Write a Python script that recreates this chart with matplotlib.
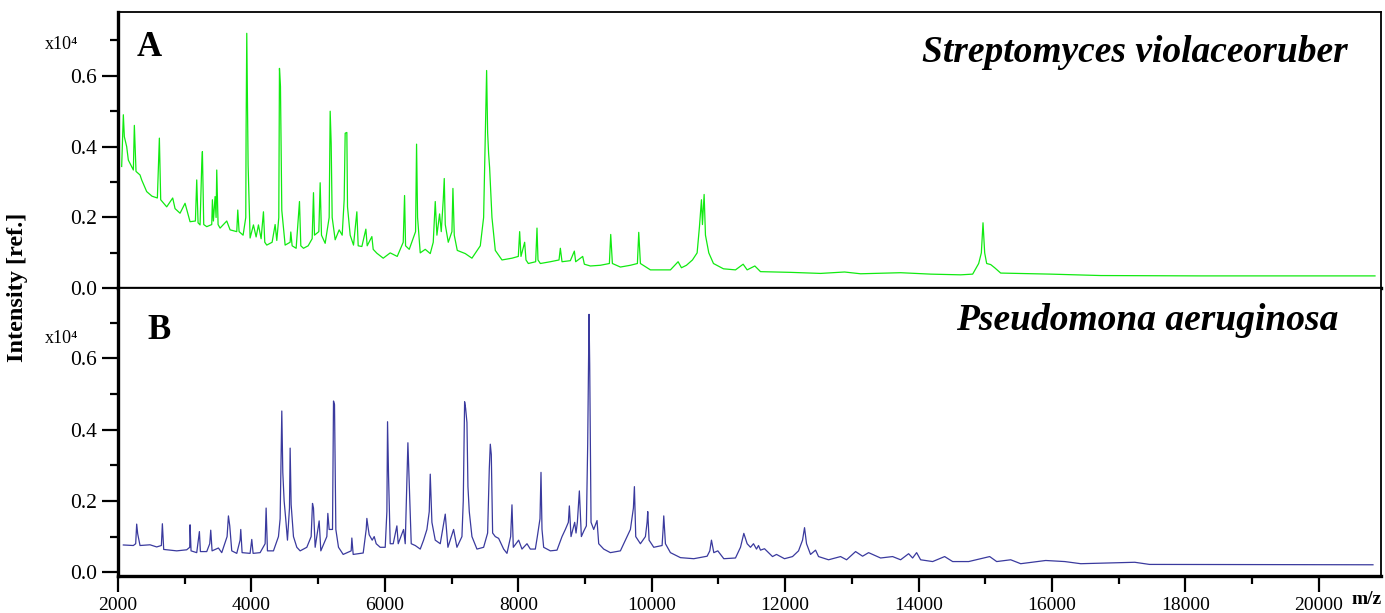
import matplotlib
matplotlib.use('Agg')
import matplotlib.pyplot as plt
from matplotlib.ticker import MultipleLocator

# spectrum A - Streptomyces violaceoruber (intensity in units of 1e4)
a_mz = [2055, 2080, 2095, 2130, 2155, 2230, 2245, 2270, 2330, 2355,
        2430, 2510, 2590, 2620, 2640, 2730, 2820, 2855, 2930, 3005,
        3080, 3160, 3180, 3200, 3230, 3255, 3265, 3285, 3330, 3405,
        3415, 3430, 3455, 3470, 3480, 3500, 3530, 3630, 3680, 3780,
        3795, 3815, 3875, 3915, 3920, 3930, 3950, 3980, 4030, 4070,
        4105, 4145, 4180, 4200, 4230, 4310, 4355, 4380, 4410, 4420,
        4435, 4455, 4505, 4580, 4590, 4610, 4670, 4720, 4740, 4780,
        4850, 4910, 4930, 4945, 5010, 5030, 5050, 5105, 5165, 5180,
        5195, 5210, 5255, 5315, 5360, 5390, 5405, 5430, 5440, 5480,
        5530, 5580, 5600, 5655, 5715, 5735, 5805, 5825, 5880, 5975,
        6080, 6185, 6275, 6295, 6310, 6365, 6460, 6475, 6490, 6530,
        6605, 6680, 6725, 6755, 6780, 6820, 6845, 6875, 6890, 6905,
        6950, 7005, 7020, 7040, 7085, 7205, 7305, 7430, 7480, 7505,
        7525, 7540, 7555, 7570, 7590, 7605, 7655, 7755, 7905, 8000,
        8020, 8040, 8095, 8115, 8150, 8260, 8280, 8295, 8330, 8480,
        8610, 8630, 8655, 8780, 8840, 8860, 8965, 8990, 9080, 9230,
        9365, 9385, 9410, 9530, 9680, 9785, 9805, 9830, 9980, 10280,
        10395, 10445, 10520, 10610, 10680, 10715, 10745, 10760, 10785, 10805,
        10855, 10925, 11075, 11255, 11370, 11430, 11545, 11630, 12080, 12530,
        12890, 13130, 13730, 14180, 14630, 14810, 14900, 14940, 14965, 14990,
        15020, 15080, 15140, 15230, 15980, 16730, 18230, 19730, 20840]
a_int = [.344, .49, .428, .40, .362, .334, .46, .33, .32, .306,
         .273, .26, .255, .424, .25, .23, .255, .225, .212, .24,
         .188, .19, .306, .185, .179, .35, .386, .18, .174, .18,
         .25, .19, .259, .20, .334, .18, .17, .19, .165, .16,
         .221, .16, .15, .20, .447, .72, .348, .142, .179, .145,
         .179, .14, .216, .13, .122, .13, .18, .135, .20, .621,
         .57, .22, .122, .13, .159, .12, .113, .245, .12, .113,
         .12, .14, .27, .15, .16, .298, .15, .127, .20, .50,
         .41, .20, .137, .165, .15, .25, .438, .44, .23, .15,
         .122, .216, .12, .118, .167, .12, .146, .11, .099, .085,
         .10, .09, .13, .262, .12, .11, .16, .407, .20, .10,
         .11, .098, .13, .245, .15, .21, .16, .25, .31, .18,
         .13, .16, .282, .15, .107, .098, .085, .12, .20, .43,
         .615, .44, .38, .34, .26, .20, .107, .08, .085, .09,
         .16, .09, .13, .08, .07, .075, .17, .08, .07, .075,
         .08, .113, .075, .078, .105, .075, .09, .068, .063, .065,
         .07, .152, .07, .06, .065, .07, .158, .07, .052, .052,
         .075, .058, .065, .08, .10, .174, .25, .18, .265, .15,
         .10, .07, .055, .052, .068, .052, .063, .047, .045, .042,
         .046, .041, .044, .04, .038, .04, .07, .10, .185, .10,
         .07, .067, .058, .043, .04, .036, .035, .035, .035]

# spectrum B - Pseudomona aeruginosa
b_mz = [2080, 2230, 2265, 2280, 2295, 2330, 2480, 2580, 2650, 2665,
        2685, 2880, 3030, 3075, 3080, 3095, 3180, 3220, 3235, 3330,
        3375, 3390, 3410, 3505, 3555, 3635, 3655, 3675, 3705, 3780,
        3830, 3840, 3860, 3980, 4005, 4025, 4130, 4205, 4220, 4240,
        4330, 4405, 4430, 4455, 4470, 4490, 4515, 4540, 4570, 4580,
        4595, 4630, 4680, 4730, 4830, 4895, 4915, 4930, 4955, 5015,
        5040, 5130, 5145, 5165, 5215, 5230, 5245, 5265, 5305, 5375,
        5495, 5505, 5525, 5675, 5720, 5730, 5745, 5765, 5810, 5840,
        5870, 5930, 6005, 6030, 6040, 6055, 6080, 6125, 6180, 6200,
        6280, 6305, 6345, 6365, 6395, 6455, 6530, 6580, 6630, 6665,
        6680, 6705, 6755, 6830, 6905, 6945, 7030, 7080, 7155, 7175,
        7195, 7210, 7230, 7245, 7265, 7305, 7380, 7480, 7540, 7565,
        7580, 7595, 7615, 7655, 7705, 7780, 7830, 7885, 7905, 7925,
        8005, 8055, 8130, 8180, 8255, 8285, 8325, 8340, 8355, 8380,
        8480, 8580, 8655, 8705, 8750, 8765, 8790, 8845, 8865, 8885,
        8915, 8945, 8980, 9020, 9040, 9060, 9070, 9090, 9130, 9180,
        9205, 9280, 9380, 9530, 9630, 9680, 9725, 9740, 9760, 9830,
        9905, 9930, 9940, 9960, 10030, 10155, 10170, 10180, 10205, 10280,
        10430, 10630, 10830, 10870, 10895, 10930, 10990, 11080, 11255, 11330,
        11380, 11430, 11480, 11525, 11570, 11600, 11630, 11690, 11810, 11870,
        11990, 12110, 12200, 12260, 12290, 12320, 12380, 12455, 12500, 12650,
        12830, 12920, 13055, 13160, 13250, 13430, 13610, 13730, 13850, 13910,
        13970, 14030, 14210, 14390, 14510, 14750, 15065, 15170, 15380, 15530,
        15905, 16190, 16430, 17240, 17460, 20810]
b_int = [.0765, .075, .08, .135, .108, .075, .077, .071, .075, .136,
         .064, .06, .063, .07, .133, .06, .055, .114, .058, .058,
         .08, .118, .06, .068, .055, .10, .158, .13, .06, .053,
         .09, .12, .055, .053, .092, .053, .055, .08, .18, .06,
         .06, .10, .15, .452, .28, .20, .147, .09, .18, .348,
         .19, .10, .07, .06, .07, .10, .193, .18, .07, .144,
         .06, .10, .165, .12, .12, .48, .47, .12, .07, .05,
         .06, .096, .05, .054, .12, .151, .13, .105, .09, .10,
         .08, .07, .07, .17, .422, .27, .08, .08, .13, .08,
         .12, .08, .363, .25, .08, .075, .065, .09, .12, .17,
         .275, .14, .09, .08, .163, .07, .12, .07, .10, .20,
         .478, .46, .42, .24, .17, .10, .065, .07, .11, .29,
         .359, .33, .11, .10, .095, .065, .053, .10, .189, .07,
         .09, .065, .08, .065, .065, .10, .15, .28, .12, .07,
         .06, .062, .10, .12, .14, .186, .10, .14, .11, .14,
         .228, .10, .115, .13, .36, .723, .58, .14, .12, .145,
         .08, .065, .055, .06, .10, .12, .18, .24, .10, .08,
         .10, .14, .17, .09, .07, .075, .12, .158, .08, .055,
         .041, .038, .045, .06, .09, .055, .06, .038, .04, .07,
         .109, .08, .07, .08, .065, .075, .062, .066, .044, .05,
         .038, .044, .06, .09, .125, .08, .05, .062, .044, .035,
         .044, .035, .058, .045, .055, .04, .044, .035, .052, .04,
         .055, .035, .03, .044, .03, .03, .044, .03, .035, .024,
         .033, .03, .024, .028, .022, .021]

y_ticks = [0.0, 0.2, 0.4, 0.6]

plt.rcParams['font.family'] = ['Liberation Serif', 'DejaVu Serif']

fig = plt.figure(figsize=(13.85, 6.13), dpi=100)
ax_a = fig.add_axes([0.0852, 0.5297, 0.9119, 0.4512])
ax_b = fig.add_axes([0.0852, 0.0604, 0.9119, 0.4693], sharex=ax_a)

ax_a.plot(a_mz, a_int, color='#11ea11', lw=0.9)
ax_b.plot(b_mz, b_int, color='#3a3a9e', lw=0.9)

ax_a.set_xlim(2000, 20930)
ax_a.set_ylim(0, 0.781)
ax_b.set_ylim(-0.0104, 0.796)

for ax in (ax_a, ax_b):
    ax.set_yticks(y_ticks)
    ax.yaxis.set_minor_locator(MultipleLocator(0.1))
    ax.xaxis.set_major_locator(MultipleLocator(2000))
    ax.xaxis.set_minor_locator(MultipleLocator(1000))
    ax.tick_params(which='major', direction='out', length=11.5, width=1.6,
                   labelsize=14, pad=3.5)
    ax.tick_params(axis='y', labelsize=15.5)
    ax.tick_params(which='minor', direction='out', length=6, width=1.6)
    ax.spines['left'].set_linewidth(2.4)
    ax.spines['bottom'].set_linewidth(2.4)
    ax.spines['top'].set_linewidth(1.3)
    ax.spines['right'].set_linewidth(1.3)

ax_a.tick_params(axis='x', which='both', bottom=False, labelbottom=False)
ax_b.set_xticklabels([str(int(t)) for t in ax_b.get_xticks()])
ax_b.set_xlim(2000, 20930)

ax_a.text(0.015, 0.872, 'A', transform=ax_a.transAxes, fontsize=25,
          fontweight='bold', va='center')
ax_b.text(0.023, 0.855, 'B', transform=ax_b.transAxes, fontsize=25,
          fontweight='bold', va='center')

ax_a.text(0.974, 0.819, 'Streptomyces violaceoruber', transform=ax_a.transAxes,
          fontsize=27, fontweight='bold', style='italic', ha='right', va='baseline')
ax_b.text(0.966, 0.855, 'Pseudomona aeruginosa', transform=ax_b.transAxes,
          fontsize=27, fontweight='bold', style='italic', ha='right', va='baseline')

ax_a.text(-0.058, 0.883, 'x10\u2074', transform=ax_a.transAxes, fontsize=13,
          va='center', ha='left')
ax_b.text(-0.058, 0.824, 'x10\u2074', transform=ax_b.transAxes, fontsize=13,
          va='center', ha='left')

fig.text(18 / 1385, 1 - 287 / 613, 'Intensity [ref.]', rotation=90,
         ha='center', va='center', fontsize=17.5, fontweight='bold')
fig.text(1367 / 1385, 1 - 599 / 613, 'm/z', ha='center', va='center',
         fontsize=14, fontweight='bold')

fig.savefig('out.png', dpi=100)
